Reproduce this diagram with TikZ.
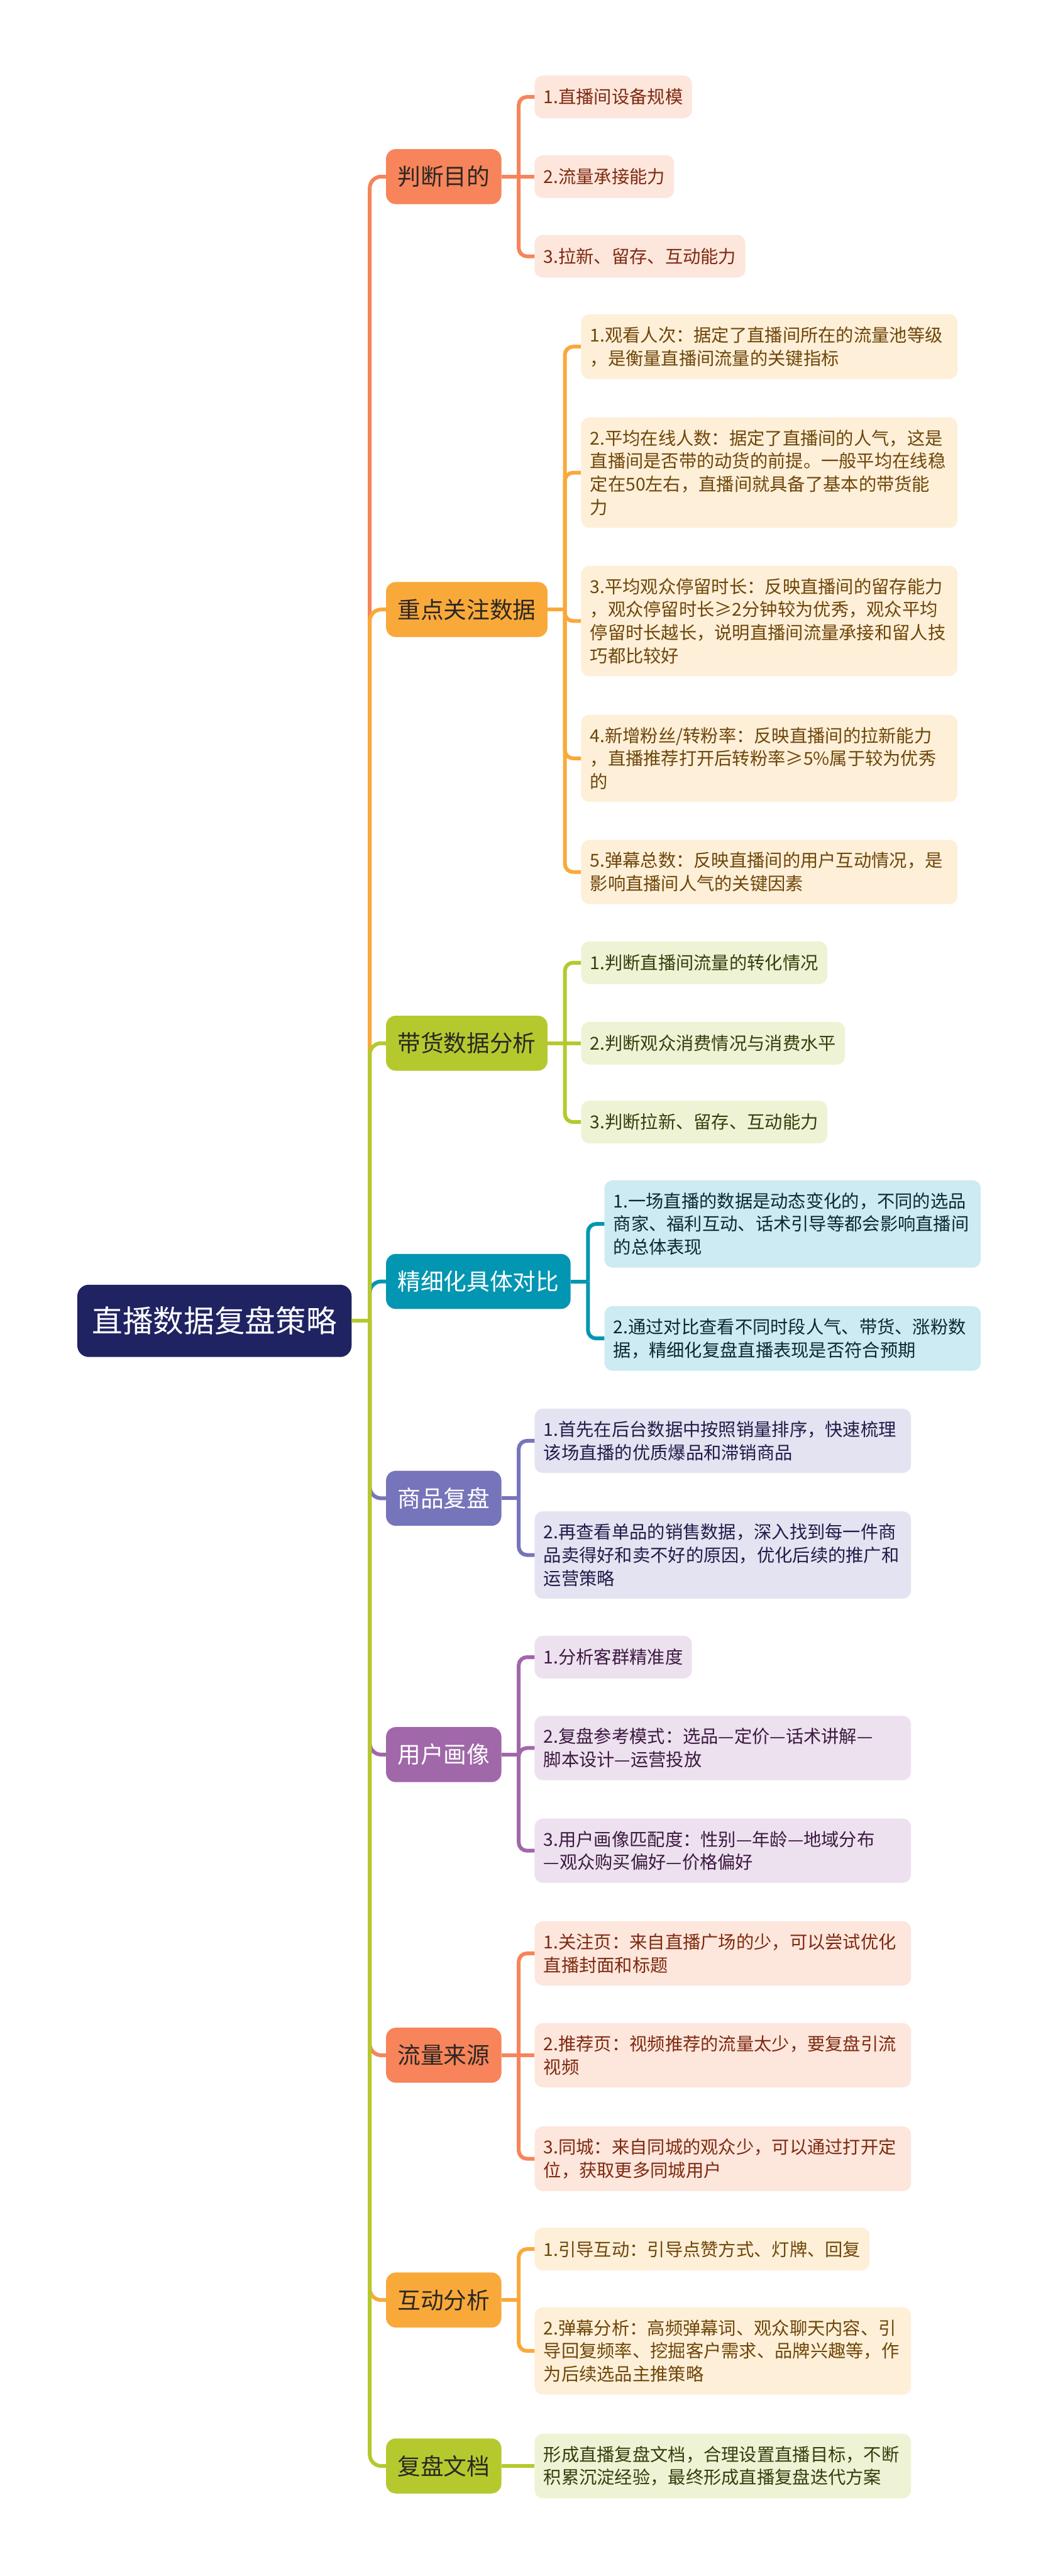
\documentclass[tikz,border=0pt]{standalone}
\usepackage{fontspec}
\setmainfont{Noto Sans CJK SC}
\usepackage{xcolor}
\usepackage{tikz}
\usetikzlibrary{positioning}
\definecolor{navyroot}{HTML}{1F2362}
\definecolor{ink}{HTML}{2B2724}
\definecolor{coral}{HTML}{F7845A}
\definecolor{coralbg}{HTML}{FDE6DC}
\definecolor{coraltx}{HTML}{7E2A10}
\definecolor{amber}{HTML}{F9A93A}
\definecolor{amberbg}{HTML}{FEEFD8}
\definecolor{ambertx}{HTML}{6E4609}
\definecolor{moss}{HTML}{B5C92E}
\definecolor{mossbg}{HTML}{EFF3D5}
\definecolor{mosstx}{HTML}{363D0C}
\definecolor{lagoon}{HTML}{0396B2}
\definecolor{lagoonbg}{HTML}{CCEBF2}
\definecolor{lagoontx}{HTML}{0E2830}
\definecolor{iris}{HTML}{7674BA}
\definecolor{irisbg}{HTML}{E4E3F1}
\definecolor{iristx}{HTML}{1E1D4A}
\definecolor{plum}{HTML}{A067A9}
\definecolor{plumbg}{HTML}{EDE1EF}
\definecolor{plumtx}{HTML}{3C1A40}
\newcommand{\rootsize}{\fontsize{53pt}{60pt}\selectfont}
\newcommand{\mainsize}{\fontsize{40pt}{48pt}\selectfont}
\newcommand{\subsize}{\fontsize{30.8pt}{40pt}\selectfont}
\tikzset{rootnd/.style={fill=navyroot,text=white,rounded corners=7mm,font=\rootsize,inner xsep=9mm,minimum height=44mm,anchor=west},
mainnd/.style 2 args={fill=#1,text=#2,rounded corners=6mm,font=\mainsize,inner xsep=7mm,minimum height=33.5mm,anchor=west},
subnd/.style 2 args={fill=#1,text=#2,rounded corners=5mm,font=\subsize,inner xsep=5.5mm,inner ysep=7.5mm,minimum height=26mm,align=left,anchor=west},
wide/.style={text width=218.2mm},
trunk/.style={draw=#1,line width=2.3mm,rounded corners=7mm},
twig/.style={draw=#1,line width=2.3mm,rounded corners=5mm}}
\begin{document}
\begin{tikzpicture}[x=1mm,y=-1mm]
\fill[white] (0,0) rectangle (644,1568);
\node[rootnd] (root) at (47,804) {直播数据复盘策略};
\node[mainnd={coral}{ink}] (m1) at (235,107.5) {判断目的};
\node[mainnd={amber}{ink}] (m2) at (235,371) {重点关注数据};
\node[mainnd={moss}{ink}] (m3) at (235,635) {带货数据分析};
\node[mainnd={lagoon}{white}] (m4) at (235,780) {精细化具体对比};
\node[mainnd={iris}{white}] (m5) at (235,912) {商品复盘};
\node[mainnd={plum}{white}] (m6) at (235,1068) {用户画像};
\node[mainnd={coral}{ink}] (m7) at (235,1251) {流量来源};
\node[mainnd={amber}{ink}] (m8) at (235,1400) {互动分析};
\node[mainnd={moss}{ink}] (m9) at (235,1501) {复盘文档};

\node[subnd={coralbg}{coraltx}] (s11) at (325.5,59) {1.直播间设备规模};
\node[subnd={coralbg}{coraltx}] (s12) at (325.5,107.5) {2.流量承接能力};
\node[subnd={coralbg}{coraltx}] (s13) at (325.5,156) {3.拉新、留存、互动能力};

\node[subnd={amberbg}{ambertx},wide] (s21) at (353.8,211) {1.观看人次：据定了直播间所在的流量池等级\\，是衡量直播间流量的关键指标};
\node[subnd={amberbg}{ambertx},wide] (s22) at (353.8,287.7) {2.平均在线人数：据定了直播间的人气，这是\\直播间是否带的动货的前提。一般平均在线稳\\定在50左右，直播间就具备了基本的带货能\\力};
\node[subnd={amberbg}{ambertx},wide] (s23) at (353.8,378) {3.平均观众停留时长：反映直播间的留存能力\\，观众停留时长≥2分钟较为优秀，观众平均\\停留时长越长，说明直播间流量承接和留人技\\巧都比较好};
\node[subnd={amberbg}{ambertx},wide] (s24) at (353.8,461.6) {4.新增粉丝/转粉率：反映直播间的拉新能力\\，直播推荐打开后转粉率≥5\%属于较为优秀\\的};
\node[subnd={amberbg}{ambertx},wide] (s25) at (353.8,530.8) {5.弹幕总数：反映直播间的用户互动情况，是\\影响直播间人气的关键因素};

\node[subnd={mossbg}{mosstx}] (s31) at (353.8,586) {1.判断直播间流量的转化情况};
\node[subnd={mossbg}{mosstx}] (s32) at (353.8,635) {2.判断观众消费情况与消费水平};
\node[subnd={mossbg}{mosstx}] (s33) at (353.8,683) {3.判断拉新、留存、互动能力};

\node[subnd={lagoonbg}{lagoontx},wide] (s41) at (368,745) {1.一场直播的数据是动态变化的，不同的选品\\商家、福利互动、话术引导等都会影响直播间\\的总体表现};
\node[subnd={lagoonbg}{lagoontx},wide] (s42) at (368,814.7) {2.通过对比查看不同时段人气、带货、涨粉数\\据，精细化复盘直播表现是否符合预期};

\node[subnd={irisbg}{iristx},wide] (s51) at (325.5,877) {1.首先在后台数据中按照销量排序，快速梳理\\该场直播的优质爆品和滞销商品};
\node[subnd={irisbg}{iristx},wide] (s52) at (325.5,946.5) {2.再查看单品的销售数据，深入找到每一件商\\品卖得好和卖不好的原因，优化后续的推广和\\运营策略};

\node[subnd={plumbg}{plumtx}] (s61) at (325.5,1008.7) {1.分析客群精准度};
\node[subnd={plumbg}{plumtx},wide] (s62) at (325.5,1064) {2.复盘参考模式：选品—定价—话术讲解—\\脚本设计—运营投放};
\node[subnd={plumbg}{plumtx},wide] (s63) at (325.5,1126.5) {3.用户画像匹配度：性别—年龄—地域分布\\—观众购买偏好—价格偏好};

\node[subnd={coralbg}{coraltx},wide] (s71) at (325.5,1189) {1.关注页：来自直播广场的少，可以尝试优化\\直播封面和标题};
\node[subnd={coralbg}{coraltx},wide] (s72) at (325.5,1251) {2.推荐页：视频推荐的流量太少，要复盘引流\\视频};
\node[subnd={coralbg}{coraltx},wide] (s73) at (325.5,1314) {3.同城：来自同城的观众少，可以通过打开定\\位，获取更多同城用户};

\node[subnd={amberbg}{ambertx}] (s81) at (325.5,1369) {1.引导互动：引导点赞方式、灯牌、回复};
\node[subnd={amberbg}{ambertx},wide] (s82) at (325.5,1431) {2.弹幕分析：高频弹幕词、观众聊天内容、引\\导回复频率、挖掘客户需求、品牌兴趣等，作\\为后续选品主推策略};

\node[subnd={mossbg}{mosstx},wide] (s91) at (325.5,1501) {形成直播复盘文档，合理设置直播目标，不断\\积累沉淀经验，最终形成直播复盘迭代方案};

\coordinate[right=11mm of root] (hub);
\draw[trunk=lagoon] (hub) |- (m4.west);
\draw[trunk=coral] (hub) |- (m1.west);
\draw[trunk=amber] (hub) |- (m2.west);
\draw[trunk=moss] (hub) |- (m3.west);
\draw[trunk=iris] (hub) |- (m5.west);
\draw[trunk=plum] (hub) |- (m6.west);
\draw[trunk=coral] (hub) |- (m7.west);
\draw[trunk=amber] (hub) |- (m8.west);
\draw[trunk=moss] (hub) |- (m9.west);
\draw[trunk=moss] (root) -- (hub);

\coordinate[right=10.5mm of m1] (h1); \coordinate[right=10.5mm of m2] (h2); \coordinate[right=10.5mm of m3] (h3);
\coordinate[right=10.5mm of m4] (h4); \coordinate[right=10.5mm of m5] (h5); \coordinate[right=10.5mm of m6] (h6);
\coordinate[right=10.5mm of m7] (h7); \coordinate[right=10.5mm of m8] (h8);

\draw[twig=coral] (m1) -- (s12); \draw[twig=coral] (h1) |- (s11.west); \draw[twig=coral] (h1) |- (s13.west);
\draw[twig=amber] (m2) -- (h2);
\foreach \k in {1,...,5} {\draw[twig=amber] (h2) |- (s2\k.west);}
\draw[twig=moss] (m3) -- (s32); \draw[twig=moss] (h3) |- (s31.west); \draw[twig=moss] (h3) |- (s33.west);
\draw[twig=lagoon] (m4) -- (h4); \draw[twig=lagoon] (h4) |- (s41.west); \draw[twig=lagoon] (h4) |- (s42.west);
\draw[twig=iris] (m5) -- (h5); \draw[twig=iris] (h5) |- (s51.west); \draw[twig=iris] (h5) |- (s52.west);
\draw[twig=plum] (m6) -- (h6);
\foreach \k in {1,2,3} {\draw[twig=plum] (h6) |- (s6\k.west);}
\draw[twig=coral] (m7) -- (s72); \draw[twig=coral] (h7) |- (s71.west); \draw[twig=coral] (h7) |- (s73.west);
\draw[twig=amber] (m8) -- (h8); \draw[twig=amber] (h8) |- (s81.west); \draw[twig=amber] (h8) |- (s82.west);
\draw[twig=moss] (m9) -- (s91);
\end{tikzpicture}
\end{document}
